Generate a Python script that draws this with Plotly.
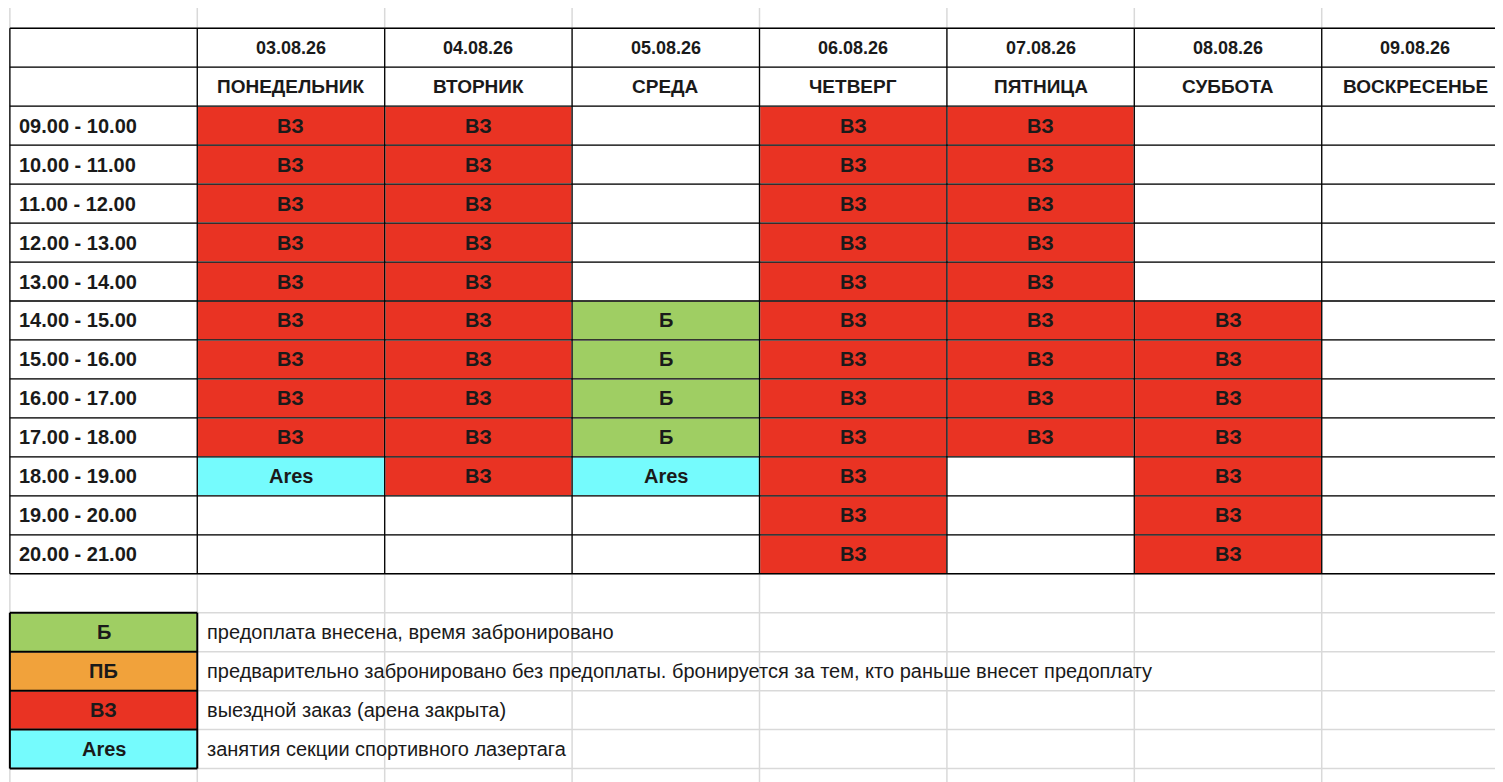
import plotly.graph_objects as go

dates = ["03.08.26","04.08.26","05.08.26","06.08.26","07.08.26","08.08.26","09.08.26"]
days = ["ПОНЕДЕЛЬНИК","ВТОРНИК","СРЕДА","ЧЕТВЕРГ","ПЯТНИЦА","СУББОТА","ВОСКРЕСЕНЬЕ"]
slots = ["09.00 - 10.00","10.00 - 11.00","11.00 - 12.00","12.00 - 13.00","13.00 - 14.00","14.00 - 15.00",
         "15.00 - 16.00","16.00 - 17.00","17.00 - 18.00","18.00 - 19.00","19.00 - 20.00","20.00 - 21.00"]
V, B, A, E = "ВЗ", "Б", "Ares", ""
schedule = [
    [V,V,V,V,V,V,V,V,V,A,E,E],
    [V,V,V,V,V,V,V,V,V,V,E,E],
    [E,E,E,E,E,B,B,B,B,A,E,E],
    [V,V,V,V,V,V,V,V,V,V,V,V],
    [V,V,V,V,V,V,V,V,V,E,E,E],
    [E,E,E,E,E,V,V,V,V,V,V,V],
    [E,E,E,E,E,E,E,E,E,E,E,E],
]
legend_codes = ["Б","ПБ","ВЗ","Ares"]
legend_texts = ["предоплата внесена, время забронировано",
                "предварительно забронировано без предоплаты. бронируется за тем, кто раньше внесет предоплату",
                "выездной заказ (арена закрыта)",
                "занятия секции спортивного лазертага"]
colors = {"": "#ffffff", "Б": "#9fce63", "ПБ": "#f1a23b", "ВЗ": "#e93323", "Ares": "#75fbfd"}
codes = ["", "Б", "ПБ", "ВЗ", "Ares"]

NC, NR = 8, 20
grid = [["" for _ in range(NC)] for _ in range(NR)]
ann = []
font_b = dict(family="Liberation Sans, Arial", size=20, color="#1a1a1a")
for j in range(7):
    ann.append(dict(x=j+1.5, y=0.5, text="<b>%s</b>" % dates[j], font=dict(font_b, size=18)))
    ann.append(dict(x=j+1.5, y=1.5, text="<b>%s</b>" % days[j], font=dict(font_b, size=19)))
for i, s in enumerate(slots):
    ann.append(dict(x=0.04, y=i+2.5, text="<b>%s</b>" % s, xanchor="left", font=font_b))
    for j in range(7):
        v = schedule[j][i]
        grid[i+2][j+1] = v
        if v:
            ann.append(dict(x=j+1.5, y=i+2.5, text="<b>%s</b>" % v, font=font_b))
for k, (c, t) in enumerate(zip(legend_codes, legend_texts)):
    grid[15+k][0] = c
    ann.append(dict(x=0.5, y=15.5+k, text="<b>%s</b>" % c, font=font_b))
    ann.append(dict(x=1.04, y=15.5+k, text=t, xanchor="left",
                    font=dict(family="Liberation Sans, Arial", size=20, color="#1a1a1a")))
for a in ann:
    a.update(showarrow=False, yanchor="middle")

z = [[codes.index(grid[r][c]) for c in range(NC)] for r in range(NR)]
cs = []
for i, c in enumerate(codes):
    cs += [[i/len(codes), colors[c]], [(i+1)/len(codes), colors[c]]]
fig = go.Figure(go.Heatmap(z=z, x=[c+0.5 for c in range(NC)], y=[r+0.5 for r in range(NR)],
                           zmin=-0.5, zmax=len(codes)-0.5, colorscale=cs, showscale=False, hoverinfo="skip"))

def seg(xs, ys, pairs):
    for (x0, y0, x1, y1) in pairs:
        xs += [x0, x1, None]; ys += [y0, y1, None]

gx, gy = [], []
seg(gx, gy, [(c, -0.6, c, NR) for c in range(NC+1)])
seg(gx, gy, [(0, r, NC, r) for r in range(NR+1)])
bx, by = [], []
seg(bx, by, [(c, 0, c, 14) for c in range(NC+1)])
seg(bx, by, [(0, r, NC, r) for r in range(15)])
lx, ly = [], []
seg(lx, ly, [(0, 15, 0, 19), (1, 15, 1, 19)] + [(0, r, 1, r) for r in range(15, 20)])
fig.add_trace(go.Scatter(x=gx, y=gy, mode="lines", line=dict(color="#d9d9d9", width=1.5), hoverinfo="skip"))
fig.add_trace(go.Scatter(x=bx, y=by, mode="lines", line=dict(color="#000000", width=1.3), hoverinfo="skip"))
fig.add_trace(go.Scatter(x=lx, y=ly, mode="lines", line=dict(color="#000000", width=2), hoverinfo="skip"))

fig.update_layout(width=1503, height=782, margin=dict(l=0, r=0, t=0, b=0), showlegend=False,
                  plot_bgcolor="white", paper_bgcolor="white", annotations=ann,
                  xaxis=dict(range=[-0.01, 8.01], visible=False, fixedrange=True),
                  yaxis=dict(range=[19.55, -0.52], visible=False, fixedrange=True))
fig.write_html("out.html", config={"displayModeBar": False})
